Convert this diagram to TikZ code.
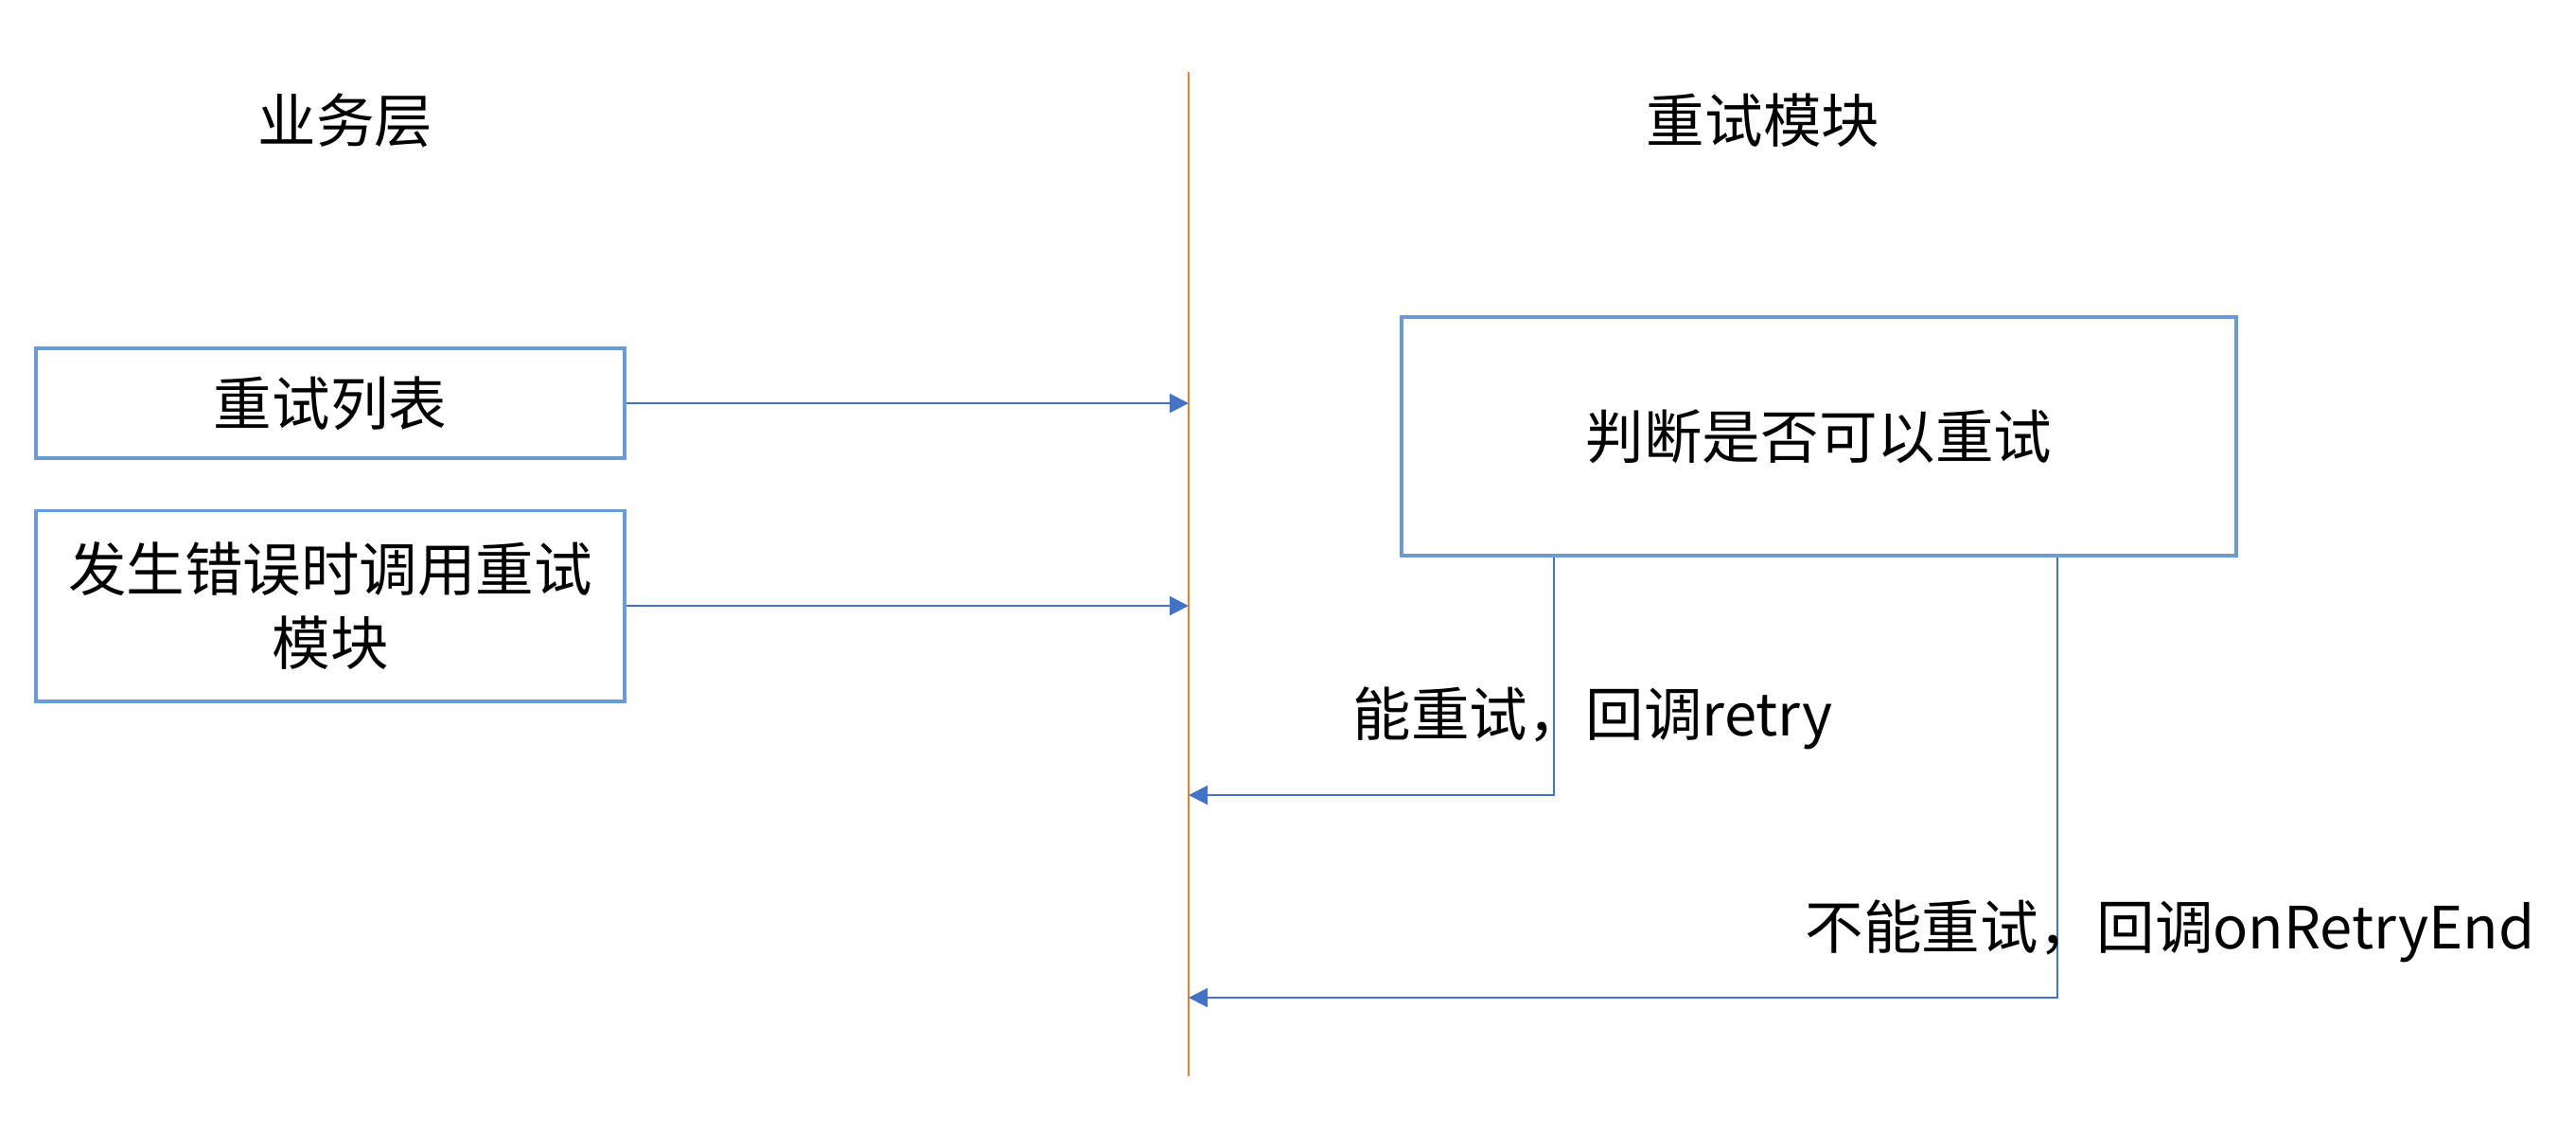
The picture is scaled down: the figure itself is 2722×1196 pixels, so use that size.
\documentclass[tikz,border=0pt]{standalone}
\usepackage{fontspec}
\setmainfont{Noto Sans CJK SC}
\usepackage{xcolor}
\usepackage{tikz}
\usetikzlibrary{positioning,arrows.meta}
\definecolor{boxblue}{HTML}{6C9BD2}
\definecolor{lineblue}{HTML}{4472C4}
\definecolor{laneorange}{HTML}{ED7D31}
\begin{document}
\begin{tikzpicture}[x=0.01cm,y=-0.01cm,
box/.style={draw=boxblue,line width=1.1pt,rectangle,inner sep=0pt,align=center,font=\fontsize{17.5}{22}\selectfont},
txt/.style={inner sep=0pt,font=\fontsize{17.5}{22}\selectfont},
call/.style={draw=lineblue,line width=0.6pt,-{Triangle[length=5.7pt,width=5.7pt]}}]
\useasboundingbox (0,0) rectangle (2722,1196);
% lanes
\coordinate (lanetop) at (1256,76);
\coordinate (lanebot) at (1256,1137);
\draw[laneorange,line width=0.6pt] (lanetop) -- (lanebot);
\node (biz) [txt] at (365,127) {业务层};
\node (mod) [txt] at (1863,127) {重试模块};
% business side
\node (list) [box,minimum width=6.22cm,minimum height=1.16cm] at (349,426) {重试列表};
\node (errcall) [box,minimum width=6.22cm,minimum height=2.01cm] at (349,640) {发生错误时调用重试\\模块};
\draw[call] (list.east) -- (list.east -| lanetop);
\draw[call] (errcall.east) -- (errcall.east -| lanetop);
% retry module side
\node (judge) [box,minimum width=8.82cm,minimum height=2.52cm] at (1922,461) {判断是否可以重试};
\coordinate (retrypt) at (1642,840);
\coordinate (endpt) at (2174,1054);
\draw[call] (judge.south -| retrypt) -- (retrypt) -- (retrypt -| lanetop);
\draw[call] (judge.south -| endpt) -- (endpt) -- (endpt -| lanetop);
\node (retrylbl) [txt] at (1683,759) {能重试，回调retry};
\node (endlbl) [txt] at (2293,984) {不能重试，回调onRetryEnd};
\end{tikzpicture}
\end{document}
